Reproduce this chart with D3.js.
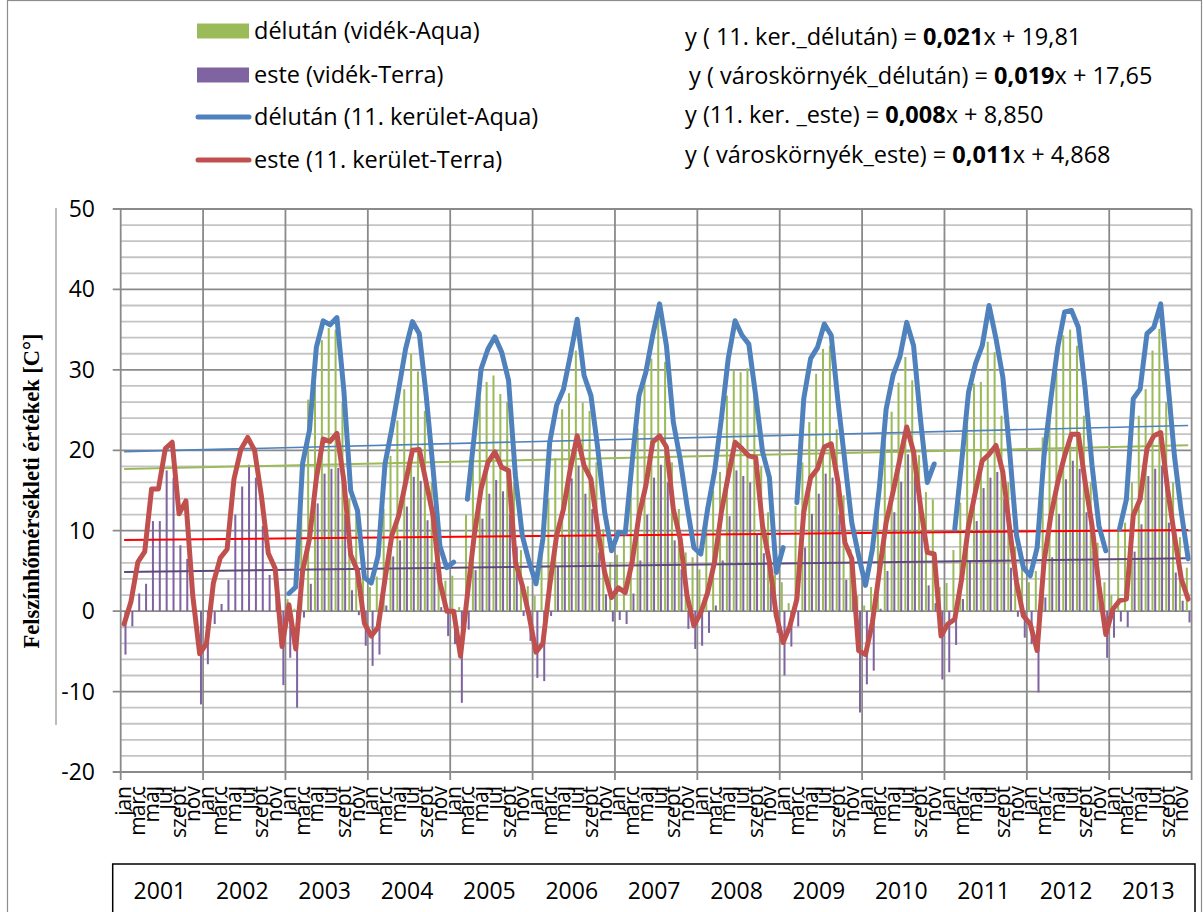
<!DOCTYPE html>
<html lang="hu">
<head>
<meta charset="UTF-8">
<title>Felszínhőmérséklet</title>
<script src="https://d3js.org/d3.v7.min.js"></script>
<style>
  body { margin: 0; background: #fff; }
  svg { display: block; font-family: "Open Sans", "Noto Sans", sans-serif; }
</style>
</head>
<body>
<div id="chart"></div>
<script>
// categories
const years = [2001, 2002, 2003, 2004, 2005, 2006, 2007, 2008, 2009, 2010, 2011, 2012, 2013];
const months = ["jan", "febr", "márc", "ápr", "máj", "jún", "júl", "aug", "szept", "okt", "nov", "dec"];
const yTicks = [-20, -10, 0, 10, 20, 30, 40, 50];

// délután (vidék-Aqua) - green columns
const delutanVidek = [
  null, null, null, null, null, null, null, null, null, null, null, null,
  null, null, null, null, null, null, null, null, null, null, null, null,
  1.5, 0.3, 14.0, 26.3, 30.0, 33.7, 35.2, 35.0, 26.0, 14.0, 12.2, 4.5,
  3.0, 4.3, 12.7, 19.3, 23.7, 27.6, 32.0, 29.8, 24.9, 16.0, 8.0, 3.8,
  4.4, 0.5, 12.0, 18.9, 26.6, 28.5, 29.3, 27.0, 26.0, 16.0, 7.6, 3.1,
  1.9, 7.3, 14.0, 19.0, 25.1, 27.1, 32.4, 25.9, 24.9, 18.5, 10.2, 6.1,
  7.0, 9.4, 16.0, 22.7, 28.7, 31.4, 36.8, 31.0, 18.5, 12.7, 7.3, 6.7,
  5.2, 11.0, 15.0, 17.3, 26.8, 29.9, 29.7, 30.2, 26.8, 18.0, 12.3, 4.5,
  3.6, 1.0, 13.1, 18.5, 23.5, 29.5, 32.6, 33.0, 22.6, 14.4, 7.7, 1.9,
  0.7, 3.0, 13.5, 21.0, 24.8, 28.4, 31.6, 28.7, 19.4, 14.8, 13.9, 3.0,
  3.5, 7.6, 13.5, 24.0, 28.3, 28.5, 33.5, 32.2, 24.3, 16.0, 8.0, 6.0,
  3.6, 5.0, 21.6, 24.3, 29.7, 34.3, 35.0, 33.0, 24.3, 16.0, 8.5, 3.6,
  2.0, 10.0, 11.0, 16.0, 24.3, 27.6, 32.4, 35.1, 26.0, 16.0, 9.2, 5.4
];

// este (vidék-Terra) - purple columns
const esteVidek = [
  -5.4, -1.9, 2.2, 3.4, 11.2, 11.2, 17.5, 16.6, 8.2, 6.5, 0.5, -11.6,
  -6.6, -1.6, 0.9, 3.9, 12.0, 15.5, 18.2, 16.6, 10.6, 4.5, 2.0, -9.2,
  -5.8, -12.0, -0.8, 3.4, 13.4, 17.1, 17.7, 17.8, 12.0, 2.6, -0.5, -4.3,
  -6.8, -5.4, 0.7, 6.8, 8.8, 13.0, 16.7, 16.2, 11.3, 6.0, 0.5, -3.1,
  -4.1, -11.4, -2.3, 5.1, 11.5, 14.6, 16.3, 14.9, 12.0, 8.0, -0.6, -3.7,
  -8.3, -8.7, -0.6, 5.6, 9.4, 16.5, 18.1, 14.6, 12.7, 7.3, 2.1, -1.3,
  -1.1, -1.6, 2.2, 6.3, 12.0, 16.6, 18.2, 16.0, 8.8, 5.2, -2.2, -4.7,
  -4.3, -2.7, 0.7, 6.3, 11.8, 17.5, 16.8, 16.0, 9.6, 7.2, 3.1, -2.7,
  -8.0, -4.4, -1.9, 7.9, 12.1, 14.6, 17.1, 16.6, 12.0, 3.9, 2.0, -12.6,
  -9.1, -7.4, 0.3, 5.0, 12.3, 16.1, 19.5, 16.8, 10.0, 3.2, 1.0, -8.5,
  -7.6, -4.2, 1.5, 6.3, 11.2, 15.3, 16.6, 17.3, 13.9, 5.4, -0.7, -3.3,
  -4.1, -10.1, 1.7, 6.7, 12.1, 16.4, 18.7, 17.7, 12.3, 7.5, 2.0, -5.8,
  -3.3, -1.3, -2.0, 7.4, 10.8, 16.8, 17.7, 18.1, 11.0, 4.8, 1.3, -1.4
];

// délután (11. kerület-Aqua) - blue line
const delutanKerulet = [
  null, null, null, null, null, null, null, null, null, null, null, null,
  null, null, null, null, null, null, null, null, null, null, null, null,
  2.2, 3.0, 18.4, 22.5, 32.8, 36.1, 35.6, 36.5, 27.5, 15.0, 12.5, 4.2,
  3.5, 6.9, 18.3, 22.7, 27.6, 32.6, 36.0, 34.5, 26.8, 17.7, 8.1, 5.4,
  6.1, null, 13.9, 21.8, 30.1, 32.6, 34.1, 32.2, 28.7, 16.8, 9.4, 6.1,
  3.4, 9.0, 21.0, 25.6, 27.6, 31.8, 36.3, 29.3, 26.8, 20.2, 12.3, 7.5,
  9.8, 9.7, 18.5, 26.8, 29.7, 34.3, 38.2, 33.0, 23.5, 18.9, 13.1, 7.9,
  7.1, 12.7, 17.3, 23.9, 31.4, 36.1, 34.3, 33.2, 26.8, 19.8, 16.6, 4.8,
  7.9, null, 13.5, 26.4, 31.4, 32.8, 35.7, 34.3, 26.0, 18.5, 11.0, 6.9,
  3.2, 7.7, 15.2, 25.1, 29.3, 31.6, 35.9, 33.0, 23.9, 16.0, 18.3, null,
  null, 10.2, 18.5, 27.2, 30.7, 33.0, 38.0, 33.9, 29.1, 19.8, 9.4, 5.4,
  4.4, 7.9, 19.3, 26.4, 32.8, 37.2, 37.4, 35.3, 27.6, 18.1, 10.6, 7.5,
  null, 10.2, 13.9, 26.4, 27.6, 34.5, 35.3, 38.2, 28.9, 19.3, 12.3, 6.5
];

// este (11. kerület-Terra) - red line
const esteKerulet = [
  -1.6, 1.2, 6.1, 7.4, 15.2, 15.2, 20.2, 21.0, 12.1, 13.7, 1.9, -5.3,
  -4.0, 3.5, 6.6, 7.7, 16.4, 20.1, 21.6, 20.0, 14.3, 7.2, 5.3, -4.4,
  0.8, -4.7, 5.0, 9.0, 16.5, 21.4, 21.1, 22.1, 16.3, 7.0, 5.0, -1.5,
  -3.1, -2.0, 4.0, 9.4, 11.9, 16.0, 20.0, 20.1, 16.0, 11.9, 3.6, 0.0,
  0.0, -5.6, 2.0, 9.4, 15.2, 18.5, 19.8, 17.9, 17.5, 6.1, 3.2, -0.6,
  -5.1, -4.0, 3.2, 9.4, 12.7, 17.7, 21.8, 18.1, 16.4, 10.2, 4.8, 1.7,
  2.9, 2.3, 6.1, 11.9, 15.6, 21.0, 21.8, 20.4, 12.7, 9.0, 1.9, -1.8,
  -0.2, 2.3, 6.1, 12.3, 16.8, 21.0, 20.2, 19.3, 19.1, 10.6, 6.1, -0.6,
  -3.9, -1.8, 1.5, 12.3, 16.6, 17.7, 20.4, 20.8, 16.0, 8.5, 6.5, -4.9,
  -5.4, -1.4, 4.8, 11.0, 14.8, 18.9, 22.9, 19.8, 13.1, 7.3, 7.1, -3.1,
  -1.6, -1.0, 4.0, 10.6, 14.8, 18.7, 19.5, 20.6, 17.3, 10.2, 3.6, -0.6,
  -1.6, -4.9, 6.1, 11.9, 16.0, 19.3, 22.0, 22.0, 16.0, 10.6, 3.2, -2.9,
  0.2, 1.3, 1.5, 11.9, 13.9, 20.2, 21.8, 22.2, 15.2, 9.4, 4.0, 1.5
];

// trend equations (x = 1 .. 156)
const trendSlopes = [0.021, 0.019, 0.008, 0.011];
const trendIntercepts = [19.81, 17.65, 8.850, 4.868];
const eqPrefixes = ["y ( 11. ker._délután) = ", "y ( városkörnyék_délután) = ", "y (11. ker. _este) = ", "y ( városkörnyék_este) = "];
const eqSlopeLabels = ["0,021", "0,019", "0,008", "0,011"];
const eqInterceptLabels = ["19,81", "17,65", "8,850", "4,868"];

const legendLabels = ["délután (vidék-Aqua)", "este (vidék-Terra)", "délután (11. kerület-Aqua)", "este (11. kerület-Terra)"];

const colGreen = "#9BBB59", colPurple = "#8064A2", colBlue = "#4F81BD", colRed = "#C0504D";
const trendColors = ["#4F81BD", "#9BBB59", "#FF0000", "#5F497A"];

// ---- layout
const W = 1203, H = 912;
const plot = { left: 120.7, right: 1191.6, top: 209, bottom: 772 };

const keys = [];
years.forEach(yr => months.forEach(m => keys.push(yr + "-" + m)));
const rows = keys.map((k, i) => ({
  key: k, i: i, month: months[i % 12],
  green: delutanVidek[i], purple: esteVidek[i],
  blue: delutanKerulet[i], red: esteKerulet[i]
}));

const svg = d3.select("#chart").append("svg").attr("width", W).attr("height", H);

const x = d3.scaleBand().domain(keys).range([plot.left, plot.right]).padding(0);
const xSub = d3.scaleBand().domain(["green", "purple"]).range([0, x.bandwidth()])
  .paddingInner(0.25).paddingOuter(0.4);
const y = d3.scaleLinear().domain([-20, 50]).range([plot.bottom, plot.top]);
const cx = k => x(k) + x.bandwidth() / 2;

// outer frame and side line
svg.append("rect").attr("x", 7.5).attr("y", 0.5).attr("width", 1194).attr("height", 960)
  .attr("fill", "none").attr("stroke", "#8c8c8c").attr("stroke-width", 1.2);
svg.append("line").attr("x1", 56).attr("x2", 56).attr("y1", 208).attr("y2", 725)
  .attr("stroke", "#a6a6a6").attr("stroke-width", 1.5);

// horizontal gridlines
const grid = svg.append("g");
grid.selectAll("line.minor")
  .data(d3.range(-20, 51, 2).filter(v => v % 10 !== 0))
  .join("line").attr("class", "minor")
  .attr("x1", plot.left).attr("x2", plot.right)
  .attr("y1", d => y(d)).attr("y2", d => y(d))
  .attr("stroke", "#c4c4c4").attr("stroke-width", 1.8);
grid.selectAll("line.major")
  .data(yTicks)
  .join("line").attr("class", "major")
  .attr("x1", plot.left - 8).attr("x2", plot.right)
  .attr("y1", d => y(d)).attr("y2", d => y(d))
  .attr("stroke", "#8a8a8a").attr("stroke-width", 1.8);

// vertical year lines
const yearEdges = years.map((yr, k) => x(keys[k * 12])).concat([plot.right]);
grid.selectAll("line.year")
  .data(yearEdges)
  .join("line").attr("class", "year")
  .attr("x1", d => d).attr("x2", d => d)
  .attr("y1", plot.top).attr("y2", plot.bottom + 8)
  .attr("stroke", "#8a8a8a").attr("stroke-width", 1.8);

// y tick labels
svg.append("g").selectAll("text")
  .data(yTicks)
  .join("text")
  .attr("x", 95).attr("y", d => y(d))
  .attr("dy", "0.35em")
  .attr("text-anchor", "end")
  .attr("font-size", 23)
  .text(d => d);

// y axis title
svg.append("text")
  .attr("transform", "translate(31,491) rotate(-90)")
  .attr("text-anchor", "middle")
  .attr("dy", "0.35em")
  .attr("font-family", "'Liberation Serif', 'Times New Roman', serif")
  .attr("font-weight", "bold")
  .attr("font-size", 22.5)
  .text("Felszínhőmérsékleti értékek [C°]");

// columns
const bars = svg.append("g");
bars.selectAll("rect.g")
  .data(rows.filter(d => d.green != null))
  .join("rect").attr("class", "g")
  .attr("x", d => x(d.key) + xSub("green"))
  .attr("width", xSub.bandwidth())
  .attr("y", d => y(Math.max(0, d.green)))
  .attr("height", d => Math.abs(y(d.green) - y(0)))
  .attr("fill", colGreen);
bars.selectAll("rect.p")
  .data(rows.filter(d => d.purple != null))
  .join("rect").attr("class", "p")
  .attr("x", d => x(d.key) + xSub("purple"))
  .attr("width", xSub.bandwidth())
  .attr("y", d => y(Math.max(0, d.purple)))
  .attr("height", d => Math.abs(y(d.purple) - y(0)))
  .attr("fill", colPurple);

// trend lines
const trends = svg.append("g");
trendSlopes.forEach((a, t) => {
  const first = keys[0], last = keys[keys.length - 1];
  trends.append("line")
    .attr("x1", cx(first)).attr("y1", y(a * 1 + trendIntercepts[t]))
    .attr("x2", cx(last)).attr("y2", y(a * keys.length + trendIntercepts[t]))
    .attr("stroke", trendColors[t])
    .attr("stroke-width", t === 0 ? 1.6 : 2);
});

// data lines
const lineGen = field => d3.line()
  .defined(d => d[field] != null)
  .x(d => cx(d.key))
  .y(d => y(d[field]));

svg.append("path").datum(rows)
  .attr("d", lineGen("blue"))
  .attr("fill", "none").attr("stroke", colBlue)
  .attr("stroke-width", 5).attr("stroke-linejoin", "round").attr("stroke-linecap", "round");
svg.append("path").datum(rows)
  .attr("d", lineGen("red"))
  .attr("fill", "none").attr("stroke", colRed)
  .attr("stroke-width", 5).attr("stroke-linejoin", "round").attr("stroke-linecap", "round");

// month labels (every second month)
svg.append("g").selectAll("text")
  .data(rows.filter(d => d.i % 2 === 0))
  .join("text")
  .attr("transform", d => `translate(${cx(d.key) + 7},786) rotate(-90)`)
  .attr("text-anchor", "end")
  .attr("font-size", 21)
  .text(d => d.month);

// year box
svg.append("rect").attr("x", 112.7).attr("y", 864).attr("width", 1195 - 112.7).attr("height", 80)
  .attr("fill", "none").attr("stroke", "#000").attr("stroke-width", 1.5);
svg.append("g").selectAll("text")
  .data(years)
  .join("text")
  .attr("x", (d, k) => (yearEdges[k] + yearEdges[k + 1]) / 2 - 2)
  .attr("y", 899)
  .attr("text-anchor", "middle")
  .attr("font-size", 23)
  .text(d => d);

// legend
const legend = svg.append("g");
const legendY = [31, 75, 117, 160];
legend.append("rect").attr("x", 197).attr("y", legendY[0] - 7.5).attr("width", 52).attr("height", 15).attr("fill", colGreen);
legend.append("rect").attr("x", 197).attr("y", legendY[1] - 7.5).attr("width", 52).attr("height", 15).attr("fill", colPurple);
[colBlue, colRed].forEach((c, k) => {
  legend.append("line").attr("x1", 198).attr("x2", 249)
    .attr("y1", legendY[k + 2]).attr("y2", legendY[k + 2])
    .attr("stroke", c).attr("stroke-width", 5).attr("stroke-linecap", "round");
});
legend.selectAll("text")
  .data(legendLabels)
  .join("text")
  .attr("x", 254).attr("y", (d, k) => legendY[k])
  .attr("dy", "0.35em")
  .attr("font-size", 23.5)
  .text(d => d);

// equations
const eqY = [37, 76, 115, 155];
const eqX = [685, 689, 685, 685];
eqPrefixes.forEach((p, k) => {
  const t = svg.append("text")
    .attr("x", eqX[k]).attr("y", eqY[k]).attr("dy", "0.35em")
    .attr("font-size", 23.5);
  t.append("tspan").text(p);
  t.append("tspan").attr("font-weight", "bold").text(eqSlopeLabels[k]);
  t.append("tspan").text("x + " + eqInterceptLabels[k]);
});
</script>
</body>
</html>
